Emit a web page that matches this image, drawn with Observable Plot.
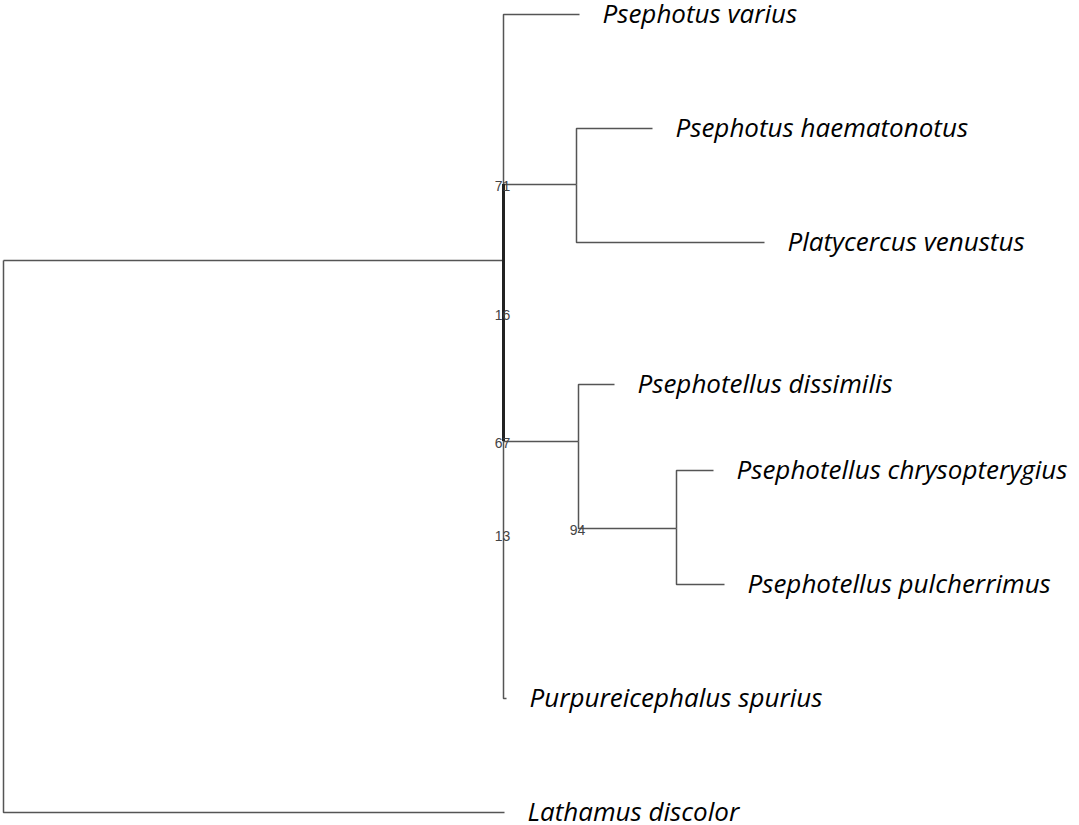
<!DOCTYPE html>
<html>
<head>
<meta charset="utf-8">
<script src="https://cdn.jsdelivr.net/npm/d3@7"></script>
<script src="https://cdn.jsdelivr.net/npm/@observablehq/plot@0.6"></script>
<style>
  html, body { margin: 0; padding: 0; background: #fff; }
  #chart svg { display: block; }
</style>
</head>
<body>
<div id="chart"></div>
<script>
// Tree nodes: id, parent, cumulative branch length (depth), vertical position
const nodeIds     = ["root", "A", "Psephotus varius", "B", "Psephotus haematonotus", "Platycercus venustus",
                     "C", "Psephotellus dissimilis", "D", "Psephotellus chrysopterygius", "Psephotellus pulcherrimus",
                     "Purpureicephalus spurius", "Lathamus discolor"];
const nodeParents = [null, "root", "A", "A", "B", "B",
                     "A", "C", "C", "D", "D",
                     "A", "root"];
const nodeDepths  = [0, 0.500, 0.576, 0.573, 0.649, 0.761,
                     0.575, 0.611, 0.673, 0.710, 0.721,
                     0.503, 0.501];
const nodeYs      = [260, 260, 14, 184, 128, 242,
                     441, 384, 528, 470, 584,
                     698, 812];
const leafNames   = ["Psephotus varius", "Psephotus haematonotus", "Platycercus venustus",
                     "Psephotellus dissimilis", "Psephotellus chrysopterygius", "Psephotellus pulcherrimus",
                     "Purpureicephalus spurius", "Lathamus discolor"];
// Bootstrap support labels: value, node whose depth is used, vertical position
const supportValues = ["71", "16", "67", "13", "94"];
const supportNodes  = ["A", "A", "A", "A", "C"];
const supportYs     = [186, 315, 443, 536, 530];

const nodes = nodeIds.map((id, i) => ({id, parent: nodeParents[i], x: nodeDepths[i], y: nodeYs[i]}));
const byId = new Map(nodes.map(d => [d.id, d]));
const links = nodes.filter(d => d.parent).map(d => ({
  x1: byId.get(d.parent).x, y1: byId.get(d.parent).y, x2: d.x, y2: d.y
}));
const leaves = leafNames.map(n => byId.get(n));
const supports = supportValues.map((v, i) => ({label: v, x: byId.get(supportNodes[i]).x, y: supportYs[i]}));
const thick = [{x: byId.get("A").x, y1: byId.get("B").y, y2: byId.get("C").y}];

const chart = Plot.plot({
  width: 1079,
  height: 825,
  margin: 0,
  x: {domain: [-0.003, 1.076], range: [0, 1079], axis: null},
  y: {domain: [0, 825], range: [0, 825], axis: null},
  marks: [
    Plot.link(links, {x1: "x1", y1: "y1", x2: "x2", y2: "y2", curve: "step-before", stroke: "#555", strokeWidth: 1.5}),
    Plot.ruleX(thick, {x: "x", y1: "y1", y2: "y2", stroke: "#222", strokeWidth: 3}),
    Plot.text(supports, {x: "x", y: "y", text: "label", dx: -1, fill: "#444", fontSize: 14,
      fontFamily: "Liberation Sans, Arial, sans-serif", textAnchor: "middle"}),
    Plot.text(leaves, {x: "x", y: "y", text: "id", dx: 23, textAnchor: "start", fill: "#000",
      fontSize: 26, fontStyle: "italic", fontFamily: "Open Sans, sans-serif"})
  ]
});
document.getElementById("chart").appendChild(chart);
</script>
</body>
</html>
